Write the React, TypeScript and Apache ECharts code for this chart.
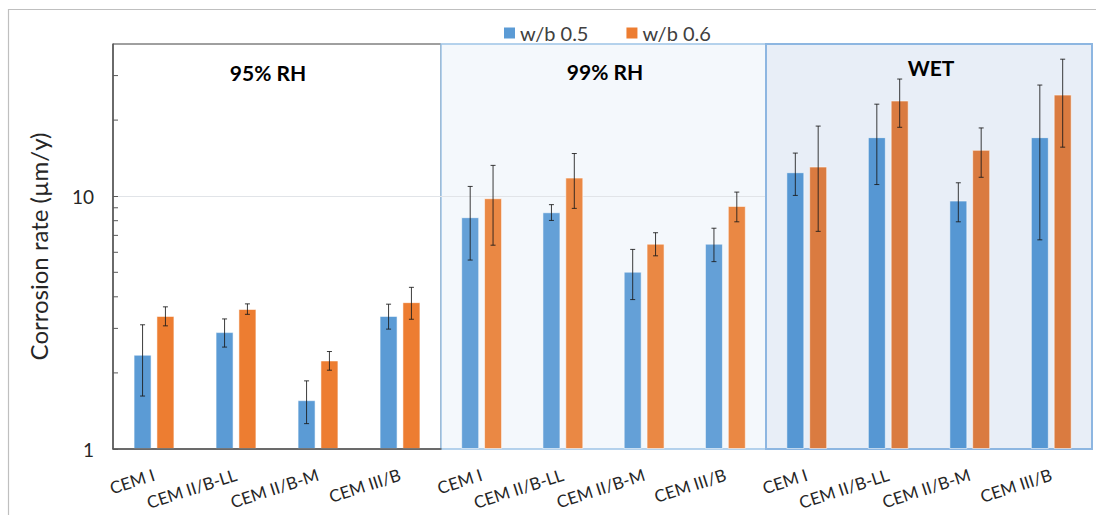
import React, { useEffect, useRef } from 'react';
import * as echarts from 'echarts';

// ---------- data ----------
const categories = ['CEM I', 'CEM II/B-LL', 'CEM II/B-M', 'CEM III/B'];
const panelTitles = ['95% RH', '99% RH', 'WET'];
const seriesNames = ['w/b 0.5', 'w/b 0.6'];

// mean corrosion rate (µm/y) per panel
const wb05Mean = [
  [2.36, 2.9, 1.56, 3.36],
  [8.26, 8.64, 5.03, 6.49],
  [12.44, 17.12, 9.61, 17.12],
];
const wb06Mean = [
  [3.36, 3.58, 2.24, 3.81],
  [9.82, 11.85, 6.49, 9.15],
  [13.1, 23.9, 15.25, 25.23],
];
// standard deviation per panel
const wb05Sd = [
  [0.74, 0.37, 0.3, 0.38],
  [2.67, 0.62, 1.13, 0.98],
  [2.37, 6.0, 1.69, 10.4],
];
const wb06Sd = [
  [0.29, 0.17, 0.19, 0.55],
  [3.42, 2.9, 0.68, 1.23],
  [5.84, 5.17, 3.37, 9.6],
];

const yMin = 1;
const yMax = 40;
const yMinorTicks = [2, 3, 4, 5, 6, 7, 8, 9, 20, 30];
const gridLineValue = 10;

// ---------- style ----------
const FONT = 'Lato';
const GRID_TOP = 44;
const GRID_HEIGHT = 405;
const panelLeft = [113, 441, 766];
const panelWidth = [328, 325, 326];
const panelBg = ['#FFFFFF', '#F4F8FC', '#E8EEF7'];
const panelBorder = ['#404040', '#9DC3E6', '#8DB6E1'];
const panelBorderWidth = [1, 1.5, 2];
const blueColors = ['#5B9BD5', '#64A0D7', '#5697D3'];
const orangeColors = ['#ED7D31', '#EA8844', '#DA7B40'];
const titlePos = [
  [268, 72],
  [605, 71],
  [931, 67],
];

const BAR_W = 18;
const BAR_GAP = 0.27;
const OFFSET = (BAR_W + BAR_W * BAR_GAP) / 2;

function errorSeries(p: number, means: number[], sds: number[], sign: number) {
  return {
    type: 'custom',
    xAxisIndex: p,
    yAxisIndex: p,
    silent: true,
    z: 5,
    encode: { x: 0, y: [1, 2] },
    data: means.map((m, i) => [i, m - sds[i], m + sds[i]]),
    renderItem: (params: any, api: any) => {
      const idx = api.value(0);
      const lo = api.coord([idx, api.value(1)]);
      const hi = api.coord([idx, api.value(2)]);
      const cx = lo[0] + sign * OFFSET;
      const style = { stroke: '#1a1a1a', lineWidth: 1, opacity: 0.85 };
      return {
        type: 'group',
        children: [
          { type: 'line', shape: { x1: cx, y1: hi[1], x2: cx, y2: lo[1] }, style },
          { type: 'line', shape: { x1: cx - 2.5, y1: hi[1], x2: cx + 2.5, y2: hi[1] }, style },
          { type: 'line', shape: { x1: cx - 2.5, y1: lo[1], x2: cx + 2.5, y2: lo[1] }, style },
        ],
      };
    },
  };
}

export default function App() {
  const ref = useRef<HTMLDivElement>(null);

  useEffect(() => {
    if (!ref.current) return;
    const chart = echarts.init(ref.current, undefined, { renderer: 'svg' });

    const grids = panelTitles.map((_, p) => ({
      left: panelLeft[p],
      top: GRID_TOP,
      width: panelWidth[p],
      height: GRID_HEIGHT,
      show: true,
      backgroundColor: panelBg[p],
      borderColor: panelBorder[p],
      borderWidth: panelBorderWidth[p],
      z: p,
    }));

    const xAxes = panelTitles.map((_, p) => ({
      type: 'category',
      gridIndex: p,
      data: categories,
      axisLine: { show: p === 0, lineStyle: { color: '#595959', width: 1.5 } },
      axisTick: { show: false },
      axisLabel: {
        interval: 0,
        rotate: 18,
        margin: 25,
        fontSize: 17,
        color: '#262626',
        fontFamily: FONT,
      },
      z: 3,
    }));

    const yAxes = panelTitles.map((_, p) => ({
      type: 'log',
      logBase: 10,
      gridIndex: p,
      min: yMin,
      max: yMax,
      axisLine: { show: p === 0, lineStyle: { color: '#595959', width: 1.5 } },
      axisTick: { show: p === 0, inside: true, length: 5, lineStyle: { color: '#595959' } },
      axisLabel: {
        show: p === 0,
        showMaxLabel: false,
        fontSize: 19,
        margin: 19,
        color: '#262626',
        fontFamily: FONT,
      },
      splitLine: { show: false },
      name: p === 0 ? 'Corrosion rate (µm/y)' : '',
      nameLocation: 'middle',
      nameGap: 63,
      nameTextStyle: { fontSize: 24, color: '#262626', fontFamily: FONT },
      z: 3,
    }));

    const series: any[] = [];
    panelTitles.forEach((_, p) => {
      series.push({
        type: 'bar',
        name: seriesNames[0],
        xAxisIndex: p,
        yAxisIndex: p,
        data: wb05Mean[p],
        barWidth: BAR_W,
        barGap: `${BAR_GAP * 100}%`,
        itemStyle: { color: blueColors[p], borderColor: 'rgba(255,255,255,0.55)', borderWidth: 1 },
        markLine: {
          silent: true,
          symbol: 'none',
          label: { show: false },
          lineStyle: { color: '#E1E4E8', type: 'solid', width: 1 },
          data: [{ yAxis: gridLineValue }],
          z: 1,
        },
        z: 2,
      });
      series.push({
        type: 'bar',
        name: seriesNames[1],
        xAxisIndex: p,
        yAxisIndex: p,
        data: wb06Mean[p],
        barWidth: BAR_W,
        barGap: `${BAR_GAP * 100}%`,
        itemStyle: { color: orangeColors[p], borderColor: 'rgba(255,255,255,0.55)', borderWidth: 1 },
        z: 2,
      });
      series.push(errorSeries(p, wb05Mean[p], wb05Sd[p], -1));
      series.push(errorSeries(p, wb06Mean[p], wb06Sd[p], 1));
    });

    // minor log ticks on the y axis
    series.push({
      type: 'custom',
      xAxisIndex: 0,
      yAxisIndex: 0,
      silent: true,
      z: 6,
      encode: { x: 0, y: 1 },
      data: yMinorTicks.map((v) => [0, v]),
      renderItem: (params: any, api: any) => {
        const pt = api.coord([0, api.value(1)]);
        const x0 = params.coordSys.x;
        return {
          type: 'line',
          shape: { x1: x0, y1: pt[1], x2: x0 + 5, y2: pt[1] },
          style: { stroke: '#595959', lineWidth: 1 },
        };
      },
    });

    chart.setOption({
      animation: false,
      textStyle: { fontFamily: FONT },
      legend: {
        data: seriesNames,
        top: 18,
        left: 499,
        icon: 'rect',
        itemWidth: 11,
        itemHeight: 11,
        itemGap: 38,
        itemStyle: { borderWidth: 0 },
        textStyle: { fontSize: 20, color: '#404040', fontFamily: FONT },
      },
      grid: grids,
      xAxis: xAxes,
      yAxis: yAxes,
      series,
      graphic: [
        {
          type: 'polyline',
          z: 0,
          silent: true,
          shape: { points: [[8.5, 515], [8.5, 9.5], [1096, 9.5]] },
          style: { stroke: '#BFBFBF', lineWidth: 1.2, fill: 'none' },
        },
        ...panelTitles.map((t, p) => ({
          type: 'text',
          z: 20,
          x: titlePos[p][0],
          y: titlePos[p][1],
          style: {
            text: t,
            fontSize: 21,
            fontWeight: 'bold',
            fontFamily: FONT,
            fill: '#000000',
            align: 'center',
            verticalAlign: 'middle',
          },
        })),
      ],
    });

    return () => chart.dispose();
  }, []);

  return (
    <div
      ref={ref}
      style={{ position: 'absolute', left: 0, top: 0, width: 1096, height: 515 }}
    />
  );
}
